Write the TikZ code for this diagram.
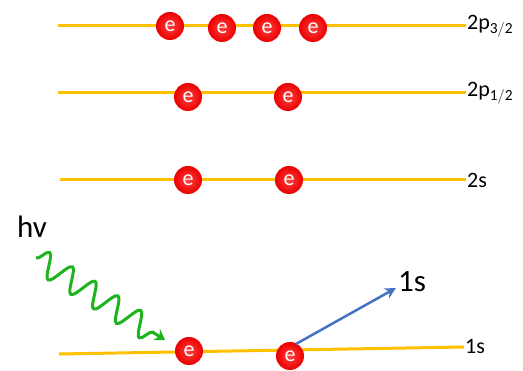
\documentclass[tikz,border=0pt]{standalone}
\usepackage{fontspec}
\setmainfont{Carlito}
\usetikzlibrary{decorations.pathmorphing,arrows.meta,shadings}
\definecolor{levelgold}{RGB}{255,192,0}
\definecolor{photongreen}{RGB}{30,180,30}
\definecolor{ejectblue}{RGB}{68,114,196}
\definecolor{ballred}{RGB}{255,0,0}
\tikzset{
  level/.style={draw=levelgold,line width=3pt},
  electron/.style={circle,minimum size=28pt,inner sep=0pt,
    shade,inner color=ballred!75!white,outer color=ballred!92!black,
    text=white,font=\fontsize{22}{22}\selectfont},
  lvlabel/.style={anchor=west,inner sep=1pt,font=\fontsize{22}{22}\selectfont},
  biglabel/.style={inner sep=0pt,font=\fontsize{31}{31}\selectfont}
}
\begin{document}
\begin{tikzpicture}[x=1pt,y=-1pt]
\useasboundingbox (0,0) rectangle (523,371);
% energy levels
\coordinate (a1) at (58,26);  \coordinate (a2) at (466,26);
\coordinate (b1) at (58,93);  \coordinate (b2) at (466,93);
\coordinate (c1) at (60,180); \coordinate (c2) at (466,180);
\coordinate (d1) at (59,354); \coordinate (d2) at (464,347);
\draw[level] (a1) -- (a2);
\draw[level] (b1) -- (b2);
\draw[level] (c1) -- (c2);
\draw[level] (d1) -- (d2);
\node[lvlabel] (la) at (a2) {2p$_{\mathrm{3/2}}$};
\node[lvlabel] (lb) at (b2) {2p$_{\mathrm{1/2}}$};
\node[lvlabel] (lc) at (c2) {2s};
\node[lvlabel] (ld) at (d2) {1s};
% electrons
\node[electron] (e1) at (170,26) {e};
\node[electron] (e2) at (222,28) {e};
\node[electron] (e3) at (267,28) {e};
\node[electron] (e4) at (313,28) {e};
\node[electron] (e5) at (188,97) {e};
\node[electron] (e6) at (288,97) {e};
\node[electron] (e7) at (188,180) {e};
\node[electron] (e8) at (289,180) {e};
\node[electron] (e9) at (189,351) {e};
\node[electron] (e10) at (290,356) {e};
% incoming photon
\node[biglabel] (hv) at (32,227) {hv};
\coordinate (w0) at (36,258);
\coordinate (w1) at (165,340);
\draw[photongreen,line width=3pt,-{Stealth[length=10pt,width=13pt]},
  decorate,decoration={snake,segment length=27pt,amplitude=12pt,post length=12pt}]
  (w0) -- (w1);
% ejected electron
\node[biglabel,anchor=west] (out) at (398,282) {1s};
\coordinate (tip) at (396,288);
\draw[ejectblue,line width=2.5pt,-{Stealth[length=11pt,width=11pt]}] ([shift={(-4,-2)}]e10.north east) -- (tip);
\end{tikzpicture}
\end{document}
